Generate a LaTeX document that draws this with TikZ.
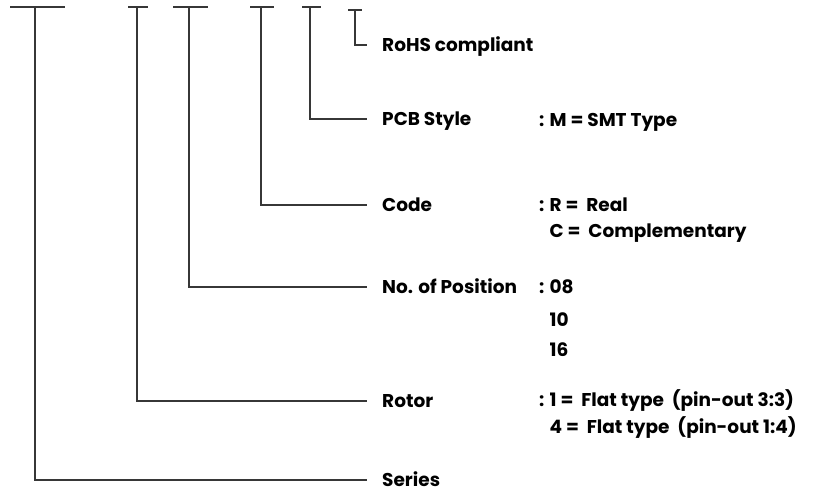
\documentclass[tikz,border=0pt]{standalone}
\usepackage{fontspec}
\setmainfont{Poppins}
\usepackage{tikz}
\usepackage{xcolor}
\definecolor{linegray}{RGB}{55,55,55}

\begin{document}
\begin{tikzpicture}[x=1pt,y=-1pt,
    part/.style={draw=linegray,line width=1.2pt},
    lbl/.style={anchor=west,inner xsep=15pt,inner ysep=0pt,text height=13pt,text depth=0pt,font=\bfseries\fontsize{18.5}{20}\selectfont},
    val/.style={anchor=west,inner sep=0pt,text height=13pt,text depth=0pt,font=\bfseries\fontsize{18.5}{20}\selectfont}]
  \useasboundingbox (0,0) rectangle (818,492);
  % top bars of the part number
  \draw[part](10,7)--(65,7);
  \draw[part](128,7)--(148,7);
  \draw[part](173,7)--(208,7);
  \draw[part](250,7)--(274,7);
  \draw[part](302,7)--(321,7);
  \draw[part](348,10)--(362,10);
  \coordinate (tser) at (35,7);
  \coordinate (trot) at (137,7);
  \coordinate (tpos) at (189,7);
  \coordinate (tcod) at (261,7);
  \coordinate (tpcb) at (310,7);
  \coordinate (troh) at (355,10);
  % field names
  \node[lbl] (roh) at (367,45){RoHS compliant};
  \node[lbl] (pcb) at (367,119){PCB Style};
  \node[lbl] (cod) at (367,205){Code};
  \node[lbl] (pos) at (367,287){No. of Position};
  \node[lbl] (rot) at (367,401){Rotor};
  \node[lbl] (ser) at (367,480){Series};
  % leaders
  \draw[part](troh)|-(roh.west);
  \draw[part](tpcb)|-(pcb.west);
  \draw[part](tcod)|-(cod.west);
  \draw[part](tpos)|-(pos.west);
  \draw[part](trot)|-(rot.west);
  \draw[part](tser)|-(ser.west);
  % options
  \node[val] (pcbm) at (539,120){: M = SMT Type};
  \node[val] (codr) at (539,205){: R =\ \ Real};
  \node[val] (codc) at (539,231){\phantom{: }C =\ \ Complementary};
  \node[val] (pos08) at (539,287){: 08};
  \node[val] (pos10) at (539,320){\phantom{: }10};
  \node[val] (pos16) at (539,350){\phantom{: }16};
  \node[val] (rot1) at (539,400){: 1 =\ \ Flat type\ \ (pin-out 3:3)};
  \node[val] (rot4) at (539,427){\phantom{: }4 =\ \ Flat type\ \ (pin-out 1:4)};
\end{tikzpicture}
\end{document}
